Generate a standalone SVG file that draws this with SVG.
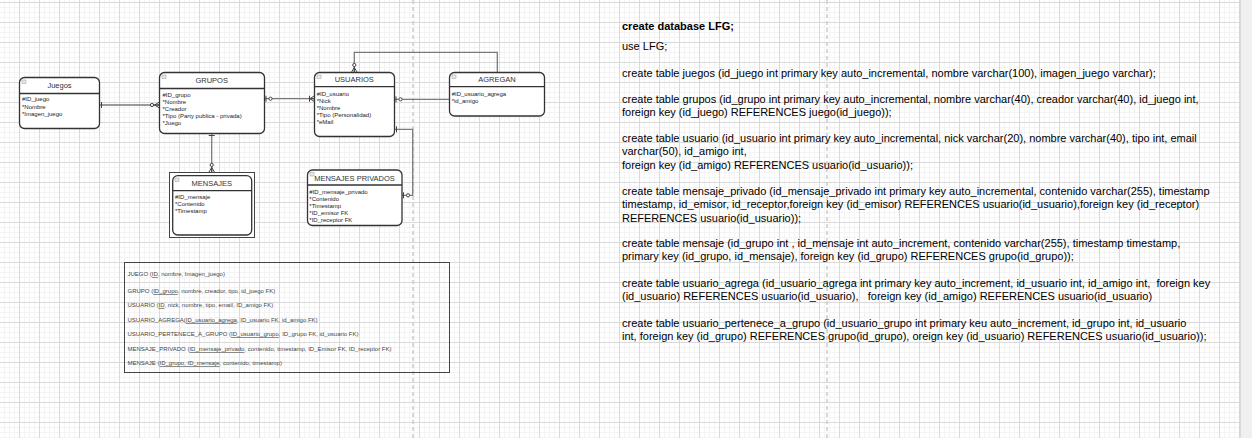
<svg xmlns="http://www.w3.org/2000/svg" width="1252" height="438" viewBox="0 0 1252 438">
<style>
.box{fill:#fff;stroke:#333;stroke-width:1.3}
.sep{stroke:#333;stroke-width:1.3}
.ico{fill:#e9e9e9;stroke:#9a9a9a;stroke-width:0.5}
.ttl{font-family:"Liberation Sans",Arial,sans-serif;font-size:7.5px;fill:#333;text-anchor:middle}
.att{font-family:"Liberation Sans",Arial,sans-serif;font-size:6px;fill:#222}
.rel{font-family:"Liberation Sans",Arial,sans-serif;font-size:6px;fill:#444}
.sql{font-family:"Liberation Sans",Arial,sans-serif;font-size:11px;fill:#000;white-space:pre}
.conn{fill:none;stroke:#7a7a7a;stroke-width:1.3}
.mk{fill:none;stroke:#444;stroke-width:1}
.mkc{fill:#fff;stroke:#444;stroke-width:1}
.pb{stroke:#cccccc;stroke-width:1.5;stroke-dasharray:4 3}
</style>
<defs>
<pattern id="grid" x="19" y="2" width="20" height="20" patternUnits="userSpaceOnUse">
<path d="M5.5 0V20M10.5 0V20M15.5 0V20M0 5.5H20M0 10.5H20M0 15.5H20" stroke="#f4f4f4" stroke-width="1" fill="none"/>
<path d="M0.5 0V20M0 0.5H20" stroke="#dadada" stroke-width="1" fill="none"/>
</pattern>
<marker id="one" markerUnits="userSpaceOnUse" markerWidth="10" markerHeight="8" viewBox="0 0 10 8" refX="10" refY="4" orient="auto-start-reverse" overflow="visible">
<path class="mk" d="M8 1V7"/>
</marker>
<marker id="zeroOne" markerUnits="userSpaceOnUse" markerWidth="10" markerHeight="8" viewBox="0 0 10 8" refX="10" refY="4" orient="auto-start-reverse" overflow="visible">
<path class="mk" d="M8.5 1V7"/>
<circle class="mkc" cx="4" cy="4" r="1.6"/>
</marker>
<marker id="zeroMany" markerUnits="userSpaceOnUse" markerWidth="10" markerHeight="8" viewBox="0 0 10 8" refX="10" refY="4" orient="auto-start-reverse" overflow="visible">
<path class="mk" d="M10 1L5 4L10 7M5 4H10"/>
<circle class="mkc" cx="2.5" cy="4" r="1.6"/>
</marker>
<marker id="oneMany" markerUnits="userSpaceOnUse" markerWidth="10" markerHeight="8" viewBox="0 0 10 8" refX="10" refY="4" orient="auto-start-reverse" overflow="visible">
<path class="mk" d="M10 1L5.5 4L10 7M5.5 4H10M5 1V7"/>
</marker>
</defs>
<rect x="0" y="0" width="1252" height="438" fill="#fff"/>
<rect x="0" y="0" width="1240" height="438" fill="url(#grid)"/>
<rect x="1240" y="0" width="12" height="438" fill="#f0f0f0"/>
<line x1="1240" y1="0" x2="1240" y2="438" stroke="#d4d4d4" stroke-width="1.5"/>
<line class="pb" x1="413" y1="0" x2="413" y2="438"/>
<line class="pb" x1="827" y1="0" x2="827" y2="438"/>

<g id="connectors">
<path class="conn" d="M99.5 105H159.5" marker-start="url(#one)" marker-end="url(#zeroMany)"/>
<path class="conn" d="M264.5 98.7H314.5" marker-start="url(#zeroOne)" marker-end="url(#oneMany)"/>
<path class="conn" d="M211.7 133.5V172.5" marker-start="url(#one)" marker-end="url(#zeroMany)"/>
<path class="conn" d="M497.3 72.5V52.3H354.3V72.5" marker-end="url(#zeroMany)"/>
<path class="conn" d="M394.5 99.3H449.5" marker-start="url(#zeroOne)"/>
<path class="conn" d="M394.5 129.3H412.7V195.3H402" marker-start="url(#one)" marker-end="url(#zeroOne)"/>
</g>

<g id="juegos">
<rect class="box" x="19.5" y="77.5" width="80" height="51" rx="5"/>
<line class="sep" x1="19.5" y1="93.5" x2="99.5" y2="93.5"/>
<rect class="ico" x="22" y="80" width="4" height="3.5"/>
<text class="ttl" x="59.5" y="88.3">Juegos</text>
<text class="att" x="22" y="101">#ID_juego</text>
<text class="att" x="22" y="108.5">*Nombre</text>
<text class="att" x="22" y="116">*Imagen_juego</text>
</g>

<g id="grupos">
<rect class="box" x="159.5" y="72.5" width="105" height="61" rx="5"/>
<line class="sep" x1="159.5" y1="88.5" x2="264.5" y2="88.5"/>
<rect class="ico" x="162" y="75" width="4" height="3.5"/>
<text class="ttl" x="211.7" y="83">GRUPOS</text>
<text class="att" x="162.5" y="97">#ID_grupo</text>
<text class="att" x="162.5" y="104">*Nombre</text>
<text class="att" x="162.5" y="111">*Creador</text>
<text class="att" x="162.5" y="118">*Tipo (Party publica - privada)</text>
<text class="att" x="162.5" y="125">*Juego</text>
</g>

<g id="usuarios">
<rect class="box" x="314.5" y="72.5" width="80" height="64" rx="5"/>
<line class="sep" x1="314.5" y1="86.7" x2="394.5" y2="86.7"/>
<rect class="ico" x="317" y="75" width="4" height="3.5"/>
<text class="ttl" x="354.3" y="82">USUARIOS</text>
<text class="att" x="316.7" y="95.7">#ID_usuario</text>
<text class="att" x="316.7" y="103">*Nick</text>
<text class="att" x="316.7" y="110">*Nombre</text>
<text class="att" x="316.7" y="117">*Tipo (Personalidad)</text>
<text class="att" x="316.7" y="124">*eMail</text>
</g>

<g id="agregan">
<rect class="box" x="449.5" y="72.5" width="95" height="43.5" rx="5"/>
<line class="sep" x1="449.5" y1="86.7" x2="544.5" y2="86.7"/>
<rect class="ico" x="452" y="75" width="4" height="3.5"/>
<text class="ttl" x="497" y="82">AGREGAN</text>
<text class="att" x="451.7" y="95.7">#ID_usuario_agrega</text>
<text class="att" x="451.7" y="103">*id_amigo</text>
</g>

<g id="mensajes-privados">
<rect class="box" x="307.5" y="170" width="94.5" height="55.5" rx="5"/>
<line class="sep" x1="307.5" y1="185" x2="402" y2="185"/>
<rect class="ico" x="310" y="172.5" width="4" height="3.5"/>
<text class="ttl" x="354.5" y="181">MENSAJES PRIVADOS</text>
<text class="att" x="309.3" y="194">#ID_mensaje_privado</text>
<text class="att" x="309.3" y="201">*Contenido</text>
<text class="att" x="309.3" y="208">*Timestamp</text>
<text class="att" x="309.3" y="215">*ID_emisor FK</text>
<text class="att" x="309.3" y="222">*ID_receptor FK</text>
</g>

<g id="mensajes">
<rect x="169.5" y="172.5" width="85" height="65" fill="#fff" stroke="#444" stroke-width="1"/>
<rect class="box" x="172.7" y="175.7" width="79" height="59.3" rx="5"/>
<line class="sep" x1="172.7" y1="190.7" x2="251.7" y2="190.7"/>
<rect class="ico" x="175" y="178" width="4" height="3.5"/>
<text class="ttl" x="211.7" y="186">MENSAJES</text>
<text class="att" x="175" y="199">#ID_mensaje</text>
<text class="att" x="175" y="206">*Contenido</text>
<text class="att" x="175" y="213">*Timestamp</text>
</g>

<g id="relational-schema">
<rect x="124.5" y="262.5" width="325" height="110" fill="none" stroke="#444" stroke-width="1"/>
<text class="rel" x="127.5" y="276.3">JUEGO (<tspan text-decoration="underline">ID</tspan>, nombre, Imagen_juego)</text>
<text class="rel" x="127.5" y="293">GRUPO (<tspan text-decoration="underline">ID_grupo</tspan>, nombre, creador, tipo, id_juego FK)</text>
<text class="rel" x="127.5" y="307">USUARIO (<tspan text-decoration="underline">ID</tspan>, nick, nombre, tipo, email, ID_amigo FK)</text>
<text class="rel" x="127.5" y="322">USUARIO_AGREGA(<tspan text-decoration="underline">ID_usuario_agrega</tspan>, ID_usuario FK, id_amigo FK)</text>
<text class="rel" x="127.5" y="336">USUARIO_PERTENECE_A_GRUPO (<tspan text-decoration="underline">ID_usuario_grupo</tspan>, ID_grupo FK, id_usuario FK)</text>
<text class="rel" x="127.5" y="351">MENSAJE_PRIVADO (<tspan text-decoration="underline">ID_mensaje_privado</tspan>, contenido, timestamp, ID_Emisor FK, ID_receptor FK)</text>
<text class="rel" x="127.5" y="365.3">MENSAJE (<tspan text-decoration="underline">ID_grupo, ID_mensaje</tspan>, contenido, timestamp)</text>
</g>

<g id="sql">
<text class="sql" x="622" y="30" font-weight="bold">create database LFG;</text>
<text class="sql" x="622" y="50">use LFG;</text>
<text class="sql" x="622" y="77">create table juegos (id_juego int primary key auto_incremental, nombre varchar(100), imagen_juego varchar);</text>
<text class="sql" x="622" y="102.5">create table grupos (id_grupo int primary key auto_incremental, nombre varchar(40), creador varchar(40), id_juego int,</text>
<text class="sql" x="622" y="115.8">foreign key (id_juego) REFERENCES juego(id_juego));</text>
<text class="sql" x="622" y="142">create table usuario (id_usuario int primary key auto_incremental, nick varchar(20), nombre varchar(40), tipo int, email</text>
<text class="sql" x="622" y="155.3">varchar(50), id_amigo int,</text>
<text class="sql" x="622" y="168.6">foreign key (id_amigo) REFERENCES usuario(id_usuario));</text>
<text class="sql" x="622" y="195">create table mensaje_privado (id_mensaje_privado int primary key auto_incremental, contenido varchar(255), timestamp</text>
<text class="sql" x="622" y="208.3">timestamp, id_emisor, id_receptor,foreign key (id_emisor) REFERENCES usuario(id_usuario),foreign key (id_receptor)</text>
<text class="sql" x="622" y="221.6">REFERENCES usuario(id_usuario));</text>
<text class="sql" x="622" y="247">create table mensaje (id_grupo int , id_mensaje int auto_increment, contenido varchar(255), timestamp timestamp,</text>
<text class="sql" x="622" y="260.3">primary key (id_grupo, id_mensaje), foreign key (id_grupo) REFERENCES grupo(id_grupo));</text>
<text class="sql" x="622" y="287">create table usuario_agrega (id_usuario_agrega int primary key auto_increment, id_usuario int, id_amigo int,  foreign key</text>
<text class="sql" x="622" y="300.3">(id_usuario) REFERENCES usuario(id_usuario),   foreign key (id_amigo) REFERENCES usuario(id_usuario)</text>
<text class="sql" x="622" y="327">create table usuario_pertenece_a_grupo (id_usuario_grupo int primary keu auto_increment, id_grupo int, id_usuario</text>
<text class="sql" x="622" y="340.3">int, foreign key (id_grupo) REFERENCES grupo(id_grupo), oreign key (id_usuario) REFERENCES usuario(id_usuario));</text>
</g>
</svg>
